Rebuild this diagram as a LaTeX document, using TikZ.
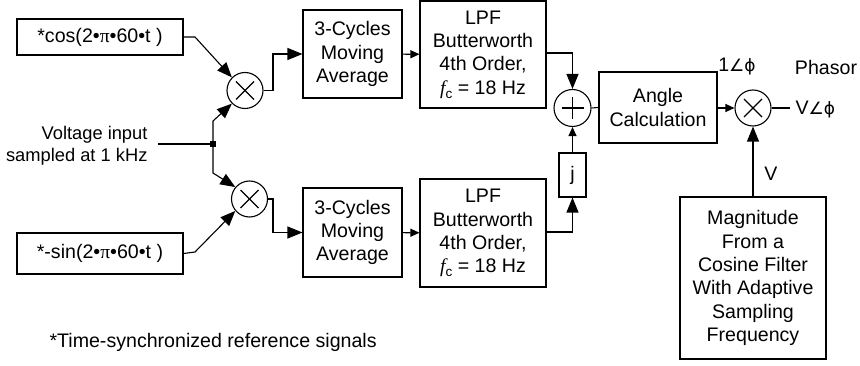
\documentclass[tikz,border=0pt]{standalone}
\usepackage{fontspec}
\setmainfont{Liberation Sans}
\newfontfamily\serif{Liberation Serif}
\newfontfamily\dv{DejaVu Sans}
\usetikzlibrary{arrows.meta,calc}
\newcommand{\fc}{{\serif\itshape f}\raisebox{-4pt}{\fontsize{13.5}{13.5}\selectfont c}}
\newcommand{\ang}{{\dv\fontsize{17}{17}\selectfont ∠ϕ}}
\begin{document}
\begin{tikzpicture}[x=1pt,y=-1pt,
  every node/.style={font=\fontsize{19.6}{23.3}\selectfont, text=black},
  blk/.style={draw, line width=1.1pt, align=center, inner sep=0pt},
  op/.style={draw, circle, line width=1.1pt, minimum size=36pt, inner sep=0pt},
  wire/.style={line width=1.1pt},
  big/.style={wire, -{Triangle[length=15pt,width=12pt]}},
  small/.style={wire, -{Triangle[length=9pt,width=8pt]}}]
\useasboundingbox (0,0) rectangle (860,366);
% boxes
\node[blk, minimum width=166pt, minimum height=36pt] (cos) at (100,37) {*cos(2•{\serif π}•60•t )};
\node[blk, minimum width=166pt, minimum height=41pt] (sin) at (100,253.5) {*-sin(2•{\serif π}•60•t )};
\node[blk, minimum width=99pt, minimum height=88pt] (ma1) at (352.5,54) {3-Cycles\\Moving\\Average};
\node[blk, minimum width=99pt, minimum height=89pt] (ma2) at (352.5,232.5) {3-Cycles\\Moving\\Average};
\node[blk, minimum width=126pt, minimum height=107pt] (lpf1) at (483,54.5) {LPF\\Butterworth\\4th Order,\\\fc\ = 18 Hz};
\node[blk, minimum width=126pt, minimum height=108pt] (lpf2) at (483,233) {LPF\\Butterworth\\4th Order,\\\fc\ = 18 Hz};
\node[blk, minimum width=27pt, minimum height=44pt] (j) at (572.5,175) {j};
\node[blk, minimum width=118pt, minimum height=71pt] (angle) at (658,107.5) {Angle\\Calculation};
\node[blk, minimum width=146pt, minimum height=162pt] (mag) at (753,278) {Magnitude\\From a\\Cosine Filter\\With Adaptive\\Sampling\\Frequency};
% operators
\node[op] (m1) at (245,90.5) {};
\node[op] (m2) at (249.5,199) {};
\node[op, minimum size=37pt] (sum) at (572.5,108) {};
\node[op] (m3) at (753,108) {};
\foreach \c in {m1,m2,m3}{
  \draw[wire] ($(\c)+(-9,-9)$) -- ($(\c)+(9,9)$);
  \draw[wire] ($(\c)+(-9,9)$) -- ($(\c)+(9,-9)$);
}
\draw[wire] ($(sum)+(-11,0)$) -- ($(sum)+(11,0)$);
\draw[wire] ($(sum)+(0,-11)$) -- ($(sum)+(0,11)$);
% input
\node[align=right, anchor=east, font=\fontsize{18.3}{22}\selectfont] (vin) at (151,146) {Voltage input\\sampled at 1 kHz};
\coordinate (jn) at (213,144);
\fill (jn) ++(-3,-3) rectangle ++(6,6);
\draw[wire] (158,144) -- (jn);
\draw[big] (jn) -- (213,121) -- (m1.225);
\draw[big] (jn) -- (213,173) -- (m2.140);
\draw[big] (cos.east) -- (195,37) -- (m1.135);
\draw[big] (sin.east) -- (195,252) -- (m2.220);
% to moving averages
\draw[big] (m1.east) -- (273,90.5) |- (ma1.west);
\draw[big] (m2.east) -- (273,199) |- (ma2.west);
\draw[small] (ma1) -- (lpf1);
\draw[small] (ma2) -- (lpf2);
% to sum
\draw[big] (lpf1.east |- 0,53) -| (sum.north);
\draw[big] (lpf2.east |- 0,232) -| (j.south);
\draw[small] (j.north) -- (sum.south);
\draw[wire] (sum.east) -- (angle.west);
\draw[small] (angle.east |- m3) -- (m3.west);
\draw[big] (mag.north) -- (m3.south);
\draw[wire] (m3.east) -- (790,108);
% labels
\node (l1) at (737,67) {1\ang};
\node (ph) at (826,67) {Phasor};
\node[anchor=west] (vout) at (792,110) {V\ang};
\node (v) at (771,174) {V};
\node[anchor=west] (foot) at (46,342) {*Time-synchronized reference signals};
\end{tikzpicture}
\end{document}
